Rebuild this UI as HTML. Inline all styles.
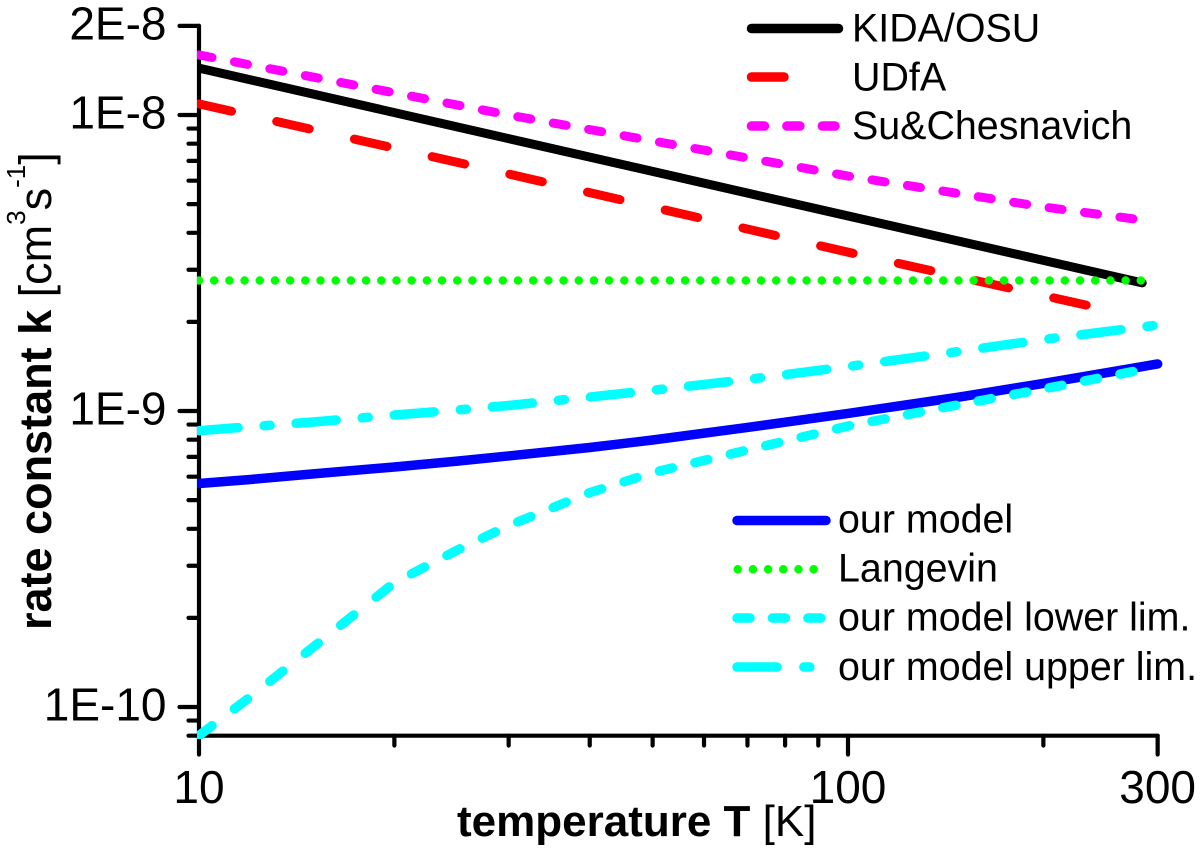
<!DOCTYPE html>
<html lang="en">
<head>
<meta charset="utf-8">
<title>Rate constant vs temperature</title>
<style>
html,body{margin:0;padding:0;background:#fff;}
svg{display:block;}
text{font-family:"Liberation Sans",Arial,sans-serif;fill:#000;}
.tick{font-size:46px;}
.leg{font-size:39.4px;}
</style>
</head>
<body>
<svg id="chart" xmlns="http://www.w3.org/2000/svg" width="1200" height="849" viewBox="0 0 1200 849">
  <defs>
    <clipPath id="plot-clip"><rect x="197" y="0" width="1003" height="739"/></clipPath>
  </defs>
  <rect x="0" y="0" width="1200" height="849" fill="#fff"/>
  <g id="axes"></g>
  <g id="series" clip-path="url(#plot-clip)"></g>

  <text transform="translate(51,630) rotate(-90)" font-size="45"><tspan font-weight="bold">rate constant k</tspan><tspan> [cm</tspan><tspan font-size="26" dy="-26">3</tspan><tspan dy="26">s</tspan><tspan font-size="26" dy="-26">-1</tspan><tspan dy="26">]</tspan></text>
  <text x="457" y="836" font-size="44"><tspan font-weight="bold">temperature T</tspan><tspan> [K]</tspan></text>

  <g>
    <g>
      <line x1="751.5" y1="28.5" x2="838.5" y2="28.5" stroke="#000" stroke-width="9.5" stroke-linecap="round"/>
      <text class="leg" x="852" y="41.5">KIDA/OSU</text>
    </g>
    <g>
      <line x1="751.5" y1="77" x2="784" y2="77" stroke="#f00" stroke-width="9.5" stroke-linecap="round"/>
      <text class="leg" x="852" y="90.5">UDfA</text>
    </g>
    <g>
      <line x1="751.5" y1="126" x2="835" y2="126" stroke="#f0f" stroke-width="9.5" stroke-linecap="round" stroke-dasharray="13 22.42"/>
      <text class="leg" x="852" y="139">Su&amp;Chesnavich</text>
    </g>
  </g>
  <g>
    <g>
      <line x1="737" y1="520.5" x2="826" y2="520.5" stroke="#00f" stroke-width="9.5" stroke-linecap="round"/>
      <text class="leg" x="838" y="532.5">our model</text>
    </g>
    <g>
      <line x1="737.7" y1="569.3" x2="814" y2="569.3" stroke="#0f0" stroke-width="8.5" stroke-linecap="round" stroke-dasharray="0.01 15.18"/>
      <text class="leg" x="838" y="581.5">Langevin</text>
    </g>
    <g>
      <line x1="737" y1="618" x2="822" y2="618" stroke="#0ff" stroke-width="9.5" stroke-linecap="round" stroke-dasharray="13 22.42"/>
      <text class="leg" x="838" y="630.5">our model lower lim.</text>
    </g>
    <g>
      <line x1="737" y1="667" x2="810" y2="667" stroke="#0ff" stroke-width="9.5" stroke-linecap="round" stroke-dasharray="40 26.8 6 30"/>
      <text class="leg" x="838" y="680">our model upper lim.</text>
    </g>
  </g>
</svg>
<script>
// Axis ticks
var xMajorTicks = [10, 100, 300];
var xMajorLabels = ["10", "100", "300"];
var xMinorTicks = [20, 30, 40, 50, 60, 70, 80, 90, 200];
var yMajorTicks = [2e-8, 1e-8, 1e-9, 1e-10];
var yMajorLabels = ["2E-8", "1E-8", "1E-9", "1E-10"];
var yMinorTicks = [9e-9, 8e-9, 7e-9, 6e-9, 5e-9, 4e-9, 3e-9, 2e-9,
                   9e-10, 8e-10, 7e-10, 6e-10, 5e-10, 4e-10, 3e-10, 2e-10,
                   9e-11, 8e-11];

// Series values: temperature [K] and rate constant [cm3 s-1]
var kidaT = [10, 30, 100, 284];
var kidaK = [1.44e-8, 8.32e-9, 4.56e-9, 2.71e-9];
var udfaT = [10, 30, 100, 240];
var udfaK = [1.09e-8, 6.32e-9, 3.44e-9, 2.245e-9];
var suT = [10, 30, 100, 200, 279];
var suK = [1.595e-8, 1.0e-8, 6.22e-9, 4.89e-9, 4.44e-9];
var langevinT = [10, 284];
var langevinK = [2.76e-9, 2.76e-9];
var modelT = [10, 12, 15, 20, 25, 30, 40, 50, 70, 100, 150, 200, 300];
var modelK = [5.69e-10, 5.87e-10, 6.13e-10, 6.47e-10, 6.77e-10, 7.05e-10, 7.53e-10, 7.98e-10, 8.80e-10, 9.81e-10, 1.119e-9, 1.239e-9, 1.442e-9];
var upperT = [10, 12, 15, 20, 25, 30, 40, 50, 70, 100, 150, 200, 300];
var upperK = [8.58e-10, 8.85e-10, 9.18e-10, 9.69e-10, 1.008e-9, 1.044e-9, 1.115e-9, 1.175e-9, 1.278e-9, 1.413e-9, 1.595e-9, 1.744e-9, 1.952e-9];
var lowerT = [10, 12, 15, 20, 25, 30, 40, 50, 70, 100, 150, 200, 279];
var lowerK = [8.01e-11, 1.083e-10, 1.595e-10, 2.63e-10, 3.39e-10, 4.10e-10, 5.30e-10, 6.19e-10, 7.38e-10, 8.90e-10, 1.056e-9, 1.187e-9, 1.368e-9];

var NS = "http://www.w3.org/2000/svg";
function xScale(t) { return 199 + 649 * (Math.log10(t) - 1); }
function yScale(k) { return 115 + 296 * (-8 - Math.log10(k)); }

var axes = document.getElementById("axes");
var seriesGroup = document.getElementById("series");

function makeLine(x1, y1, x2, y2, w) {
  var l = document.createElementNS(NS, "line");
  l.setAttribute("x1", x1);
  l.setAttribute("y1", y1);
  l.setAttribute("x2", x2);
  l.setAttribute("y2", y2);
  l.setAttribute("stroke", "#000");
  l.setAttribute("stroke-width", w);
  l.setAttribute("stroke-linecap", "round");
  return l;
}

var xAxisBottom = yScale(8e-11);
var xAxisLine = makeLine(xScale(10), xAxisBottom, xScale(300), xAxisBottom, 4.2);


axes.appendChild(xAxisLine);

var yAxisLine = makeLine(xScale(10), yScale(2e-8), xScale(10), xAxisBottom, 4.2);


axes.appendChild(yAxisLine);

xMajorTicks.forEach(function (t, i) {
  var x = xScale(t);
  var tick = makeLine(x, xAxisBottom, x, 754.5, 4.2);
  
  
  axes.appendChild(tick);
  var label = document.createElementNS(NS, "text");
  
  
  label.setAttribute("class", "tick");
  label.setAttribute("x", x);
  label.setAttribute("y", 803);
  label.setAttribute("text-anchor", "middle");
  label.textContent = xMajorLabels[i];
  axes.appendChild(label);
});

xMinorTicks.forEach(function (t) {
  var x = xScale(t);
  var tick = makeLine(x, xAxisBottom, x, 745.5, 4.2);
  
  
  axes.appendChild(tick);
});

yMajorTicks.forEach(function (k, i) {
  var y = yScale(k);
  var tick = makeLine(179.5, y, xScale(10), y, 4.2);
  
  
  axes.appendChild(tick);
  var label = document.createElementNS(NS, "text");
  
  
  label.setAttribute("class", "tick");
  label.setAttribute("x", 166.5);
  label.setAttribute("y", y + 13.5);
  label.setAttribute("text-anchor", "end");
  label.textContent = yMajorLabels[i];
  axes.appendChild(label);
});

yMinorTicks.forEach(function (k) {
  var y = yScale(k);
  var tick = makeLine(188.5, y, xScale(10), y, 4.2);
  
  
  axes.appendChild(tick);
});

// Build the screen path. Dash pattern is measured along x.
function seriesPathD(ts, ks, pattern, phase) {
  var px = ts.map(xScale);
  var py = ks.map(yScale);
  function yAt(x) {
    for (var i = 0; i < px.length - 1; i++) {
      if (x <= px[i + 1]) {
        return py[i] + (py[i + 1] - py[i]) * (x - px[i]) / (px[i + 1] - px[i]);
      }
    }
    return py[py.length - 1];
  }
  function piece(a, b) {
    var d = "M" + a.toFixed(2) + " " + yAt(a).toFixed(2);
    for (var i = 0; i < px.length; i++) {
      if (px[i] > a && px[i] < b) {
        d += "L" + px[i].toFixed(2) + " " + py[i].toFixed(2);
      }
    }
    return d + "L" + b.toFixed(2) + " " + yAt(b).toFixed(2);
  }
  var start = px[0];
  var end = px[px.length - 1];
  if (!pattern) { return piece(start, end); }
  var out = "";
  var x = start + (phase || 0);
  var idx = 0;
  while (x < end) {
    var len = pattern[idx % pattern.length];
    if (idx % 2 === 0) {
      var a = Math.max(x, start);
      var b = Math.min(x + len, end);
      if (b > a) { out += piece(a, b); }
    }
    x += len;
    idx++;
  }
  return out;
}

function addSeries(name, ts, ks, color, width, pattern, phase) {
  var p = document.createElementNS(NS, "path");
  p.setAttribute("d", seriesPathD(ts, ks, pattern, phase));
  p.setAttribute("fill", "none");
  p.setAttribute("stroke", color);
  p.setAttribute("stroke-width", width);
  p.setAttribute("stroke-linecap", "round");
  p.setAttribute("stroke-linejoin", "round");
  seriesGroup.appendChild(p);
  return p;
}

var kidaLine = addSeries("kida", kidaT, kidaK, "#000", 9, null);



var udfaLine = addSeries("udfa", udfaT, udfaK, "#f00", 9, [32.5, 45.2]);



var suLine = addSeries("su", suT, suK, "#f0f", 9, [13, 22.42]);



var modelLine = addSeries("model", modelT, modelK, "#00f", 9.5, null);



var langevinLine = addSeries("langevin", langevinT, langevinK, "#0f0", 8.5, [0.01, 15.18]);



var lowerLine = addSeries("lower", lowerT, lowerK, "#0ff", 9.5, [13, 22.42]);



var upperLine = addSeries("upper", upperT, upperK, "#0ff", 9.5, [40, 26.1, 6, 26], -1);


</script>
</body>
</html>
